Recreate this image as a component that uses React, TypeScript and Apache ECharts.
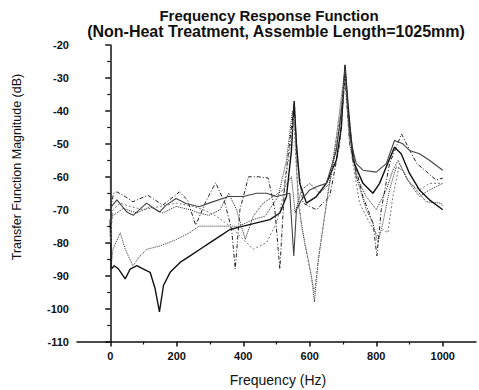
import React, { useEffect, useRef } from "react";
import * as echarts from "echarts";

const titleLine1 = "Frequency Response Function";
const titleLine2 = "(Non-Heat Treatment, Assemble Length=1025mm)";
const xName = "Frequency (Hz)";
const yName = "Transfer Function Magnitude (dB)";

const xMajorTicks = [0, 200, 400, 600, 800, 1000];
const xMinorTicks = [100, 300, 500, 700, 900];

const freq1 = [0, 3, 12, 25, 45, 60, 80, 100, 120, 135, 148, 160, 180, 210, 240, 270, 300, 330, 360, 400, 440, 480, 510, 530, 545, 553, 560, 570, 590, 620, 650, 680, 695, 706, 715, 730, 760, 790, 810, 830, 855, 875, 900, 930, 960, 1000];
const mag1 = [-73, -88, -87, -88, -91, -88, -87, -88, -89, -94, -101, -93, -89, -86, -84, -82, -80, -78, -76, -75, -74, -73, -71, -66, -52, -37, -50, -62, -68, -66, -62, -55, -45, -26, -38, -55, -62, -65, -62, -57, -51, -53, -59, -64, -67, -70];

const freq2 = [0, 2, 8, 30, 45, 68, 90, 110, 150, 200, 238, 267, 320, 386, 430, 465, 505, 530, 548, 556, 565, 585, 605, 614, 625, 650, 680, 700, 706, 715, 740, 770, 790, 805, 820, 840, 860, 880, 900, 930, 960, 1000];
const mag2 = [-60, -88, -82, -77, -82, -87, -84, -82, -81, -79, -77, -75, -75, -75, -73, -72, -66, -55, -40, -46, -68, -80, -90, -98, -86, -68, -48, -32, -28, -40, -60, -70, -74, -80, -74, -64, -57, -58, -62, -66, -64, -62];

const freq3 = [0, 4, 10, 20, 45, 68, 113, 158, 208, 232, 257, 287, 317, 345, 365, 376, 390, 416, 445, 475, 495, 510, 525, 545, 554, 562, 580, 620, 660, 690, 706, 720, 760, 790, 802, 815, 840, 876, 901, 922, 946, 980, 1000];
const mag3 = [-75, -68, -65, -64.6, -66, -67.6, -65.6, -68.6, -64.6, -67, -74.7, -67.6, -61.8, -68, -76, -88, -70, -60, -60, -60.4, -70, -88, -62, -45, -38, -55, -68, -70, -66, -50, -30, -50, -66, -74, -84, -70, -56, -47, -52, -56, -58, -61, -60.4];

const freq4 = [0, 4, 20, 50, 69, 109, 148, 168, 198, 228, 267, 297, 356, 400, 440, 470, 500, 540, 552, 560, 575, 600, 620, 650, 680, 695, 706, 720, 740, 760, 800, 830, 855, 880, 900, 930, 960, 1000];
const mag4 = [-74, -69, -67, -70.7, -71.7, -68, -70.7, -68.6, -66.6, -68.1, -69.1, -68, -66, -66, -65, -65, -66, -65, -84, -70, -67, -64, -63, -62, -52, -40, -27, -48, -56, -58, -58.6, -56, -49, -50, -52, -53, -55, -58];

const freq5 = [0, 5, 39, 80, 119, 158, 198, 240, 267, 297, 330, 356, 380, 406, 430, 460, 490, 520, 545, 556, 575, 600, 630, 660, 690, 706, 720, 740, 770, 800, 830, 850, 866, 891, 921, 950, 995, 1000];
const mag5 = [-78, -72, -69.6, -71, -69.1, -71, -69, -70, -71, -71.7, -70, -65, -70, -79, -72, -68, -66, -64, -60, -71, -64, -62, -65, -62, -45, -29, -45, -60, -66, -70, -64, -58, -55, -60.4, -64, -67.6, -68, -69];

const freq6 = [0, 8, 30, 60, 100, 150, 200, 250, 280, 320, 360, 400, 430, 470, 500, 520, 540, 552, 560, 575, 600, 614, 630, 660, 690, 706, 720, 750, 780, 805, 820, 835, 850, 870, 900, 930, 960, 1000];
const mag6 = [-80, -70, -68, -69, -70, -69, -68, -69, -70, -72, -75, -79, -82, -80, -74, -66, -52, -42, -58, -75, -88, -95, -82, -62, -42, -30, -50, -68, -74, -78, -76, -77, -66, -56, -62, -64, -62, -62];

const seriesDefs = [
  { name: "A", freq: freq1, mag: mag1, color: "#111", width: 1.4, type: "solid" },
  { name: "B", freq: freq2, mag: mag2, color: "#333", width: 1, type: "dotted" },
  { name: "C", freq: freq3, mag: mag3, color: "#222", width: 1, type: [4, 2, 1, 2] },
  { name: "D", freq: freq4, mag: mag4, color: "#444", width: 1.1, type: "solid" },
  { name: "E", freq: freq5, mag: mag5, color: "#222", width: 1, type: "dotted" },
  { name: "F", freq: freq6, mag: mag6, color: "#777", width: 1, type: [2, 2] },
];

const FONT = "'Liberation Sans', Arial, Helvetica, sans-serif";

export default function App() {
  const ref = useRef<HTMLDivElement>(null);
  useEffect(() => {
    if (!ref.current) return;
    const chart = echarts.init(ref.current, null, { renderer: "svg" });
    const labelStyle = { fontFamily: FONT, fontSize: 11, fontWeight: "bold" as const, color: "#111" };
    chart.setOption({
      animation: false,
      backgroundColor: "#fff",
      grid: { left: 77, top: 45, right: -2, bottom: 48.5, containLabel: false },
      xAxis: [
        {
          type: "value",
          min: -100,
          max: 1100,
          interval: 100,
          axisLine: { show: true, lineStyle: { color: "#111", width: 1.5 } },
          axisTick: { show: true, length: 5, customValues: xMajorTicks, lineStyle: { color: "#111", width: 1.5 } },
          axisLabel: {
            ...labelStyle,
            margin: 9,
            formatter: (v: number) => (xMajorTicks.indexOf(v) >= 0 ? String(v) : ""),
          },
          splitLine: { show: false },
        },
        {
          type: "value",
          position: "bottom",
          min: -100,
          max: 1100,
          interval: 100,
          axisLine: { show: false },
          axisTick: { show: true, length: 3, customValues: xMinorTicks, lineStyle: { color: "#111", width: 1.2 } },
          axisLabel: { show: false },
          splitLine: { show: false },
        },
      ],
      yAxis: {
        type: "value",
        min: -110,
        max: -20,
        interval: 10,
        axisLine: { show: true, lineStyle: { color: "#111", width: 1.5 } },
        axisTick: { show: true, length: 5, lineStyle: { color: "#111", width: 1.5 } },
        minorTick: { show: true, splitNumber: 2, length: 3, lineStyle: { color: "#111", width: 1.2 } },
        axisLabel: { ...labelStyle, margin: 8 },
        splitLine: { show: false },
      },
      series: seriesDefs.map((s) => ({
        name: s.name,
        type: "line",
        xAxisIndex: 0,
        yAxisIndex: 0,
        showSymbol: false,
        symbol: "none",
        smooth: false,
        data: s.freq.map((f, i) => [f, s.mag[i]]),
        lineStyle: { color: s.color, width: s.width, type: s.type },
      })),
      graphic: [
        {
          type: "text",
          x: 269,
          y: 15,
          style: { text: titleLine1, font: `bold 15px ${FONT}`, fill: "#111", textAlign: "center", textVerticalAlign: "middle" },
        },
        {
          type: "text",
          x: 276,
          y: 31,
          style: { text: titleLine2, font: `bold 16px ${FONT}`, fill: "#111", textAlign: "center", textVerticalAlign: "middle" },
        },
        {
          type: "text",
          x: 278,
          y: 380,
          style: { text: xName, font: `14px ${FONT}`, fill: "#111", textAlign: "center", textVerticalAlign: "middle" },
        },
        {
          type: "text",
          x: 17,
          y: 167,
          rotation: Math.PI / 2,
          style: { text: yName, font: `12.5px ${FONT}`, fill: "#111", textAlign: "center", textVerticalAlign: "middle" },
        },
      ],
    });
    return () => chart.dispose();
  }, []);
  return <div ref={ref} style={{ position: "absolute", left: 0, top: 0, width: 479, height: 390 }} />;
}
